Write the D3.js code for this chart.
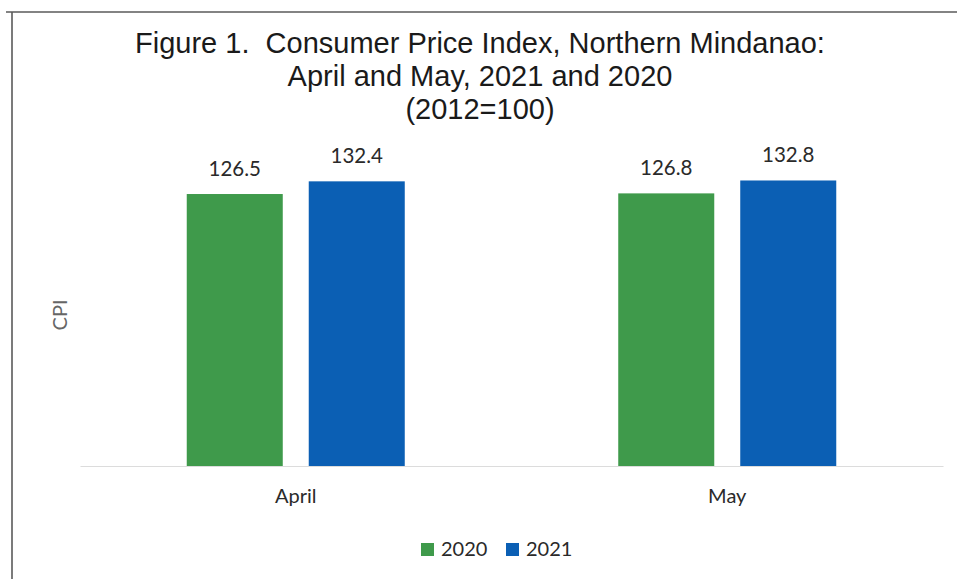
<!DOCTYPE html>
<html>
<head>
<meta charset="utf-8">
<script src="https://cdn.jsdelivr.net/npm/d3@7"></script>
<style>
  html, body { margin: 0; padding: 0; background: #ffffff; }
  svg { display: block; }
  text { white-space: pre; }
</style>
</head>
<body>
<svg id="chart" width="957" height="579"></svg>
<script>
// ---- data ----
const titleLines = ["Figure 1.  Consumer Price Index, Northern Mindanao:", "April and May, 2021 and 2020", "(2012=100)"];
const categories = ["April", "May"];
const seriesNames = ["2020", "2021"];
const values2020 = [126.5, 126.8];
const values2021 = [132.4, 132.8];
const valueLabels2020 = ["126.5", "126.8"];
const valueLabels2021 = ["132.4", "132.8"];
const yAxisTitle = "CPI";
const colors = ["#3f9a4b", "#0b5fb4"];

const seriesValues = [values2020, values2021];
const seriesLabels = [valueLabels2020, valueLabels2021];

const svg = d3.select("#chart");
const W = 957, H = 579;

// frame (scanned page border, top and left visible)
svg.append("line").attr("x1", 6).attr("x2", W).attr("y1", 12).attr("y2", 12)
  .attr("stroke", "#5a5a5a").attr("stroke-width", 1.6);
svg.append("line").attr("x1", 12).attr("x2", 12).attr("y1", 12).attr("y2", H)
  .attr("stroke", "#5a5a5a").attr("stroke-width", 1.6);

// title
const titleBaselines = [53, 86, 119];
svg.append("g").selectAll("text").data(titleLines).join("text")
  .attr("x", 480).attr("y", (d, i) => titleBaselines[i])
  .attr("text-anchor", "middle")
  .attr("xml:space", "preserve")
  .attr("font-family", "'Liberation Sans', Arial, sans-serif")
  .attr("font-size", 29)
  .attr("fill", "#1a1a1a")
  .text(d => d);

// scales
const plot = { left: 80, right: 943, top: 165, bottom: 466 };
const x0 = d3.scaleBand().domain(categories).range([plot.left, plot.right]).padding(0);
const x1 = d3.scaleBand().domain(seriesNames).range([0, x0.bandwidth()])
  .paddingInner(0.213).paddingOuter(0.875);
const y = d3.scaleLinear().domain([0, 140]).range([plot.bottom, plot.top]);

// baseline axis
const xAxis = d3.axisBottom(x0).tickSize(0).tickPadding(0).tickFormat("");
const ax = svg.append("g").attr("transform", `translate(0,${plot.bottom})`).call(xAxis);
ax.select(".domain").attr("stroke", "#dcdcdc").attr("stroke-width", 1.2);

// bars
const groups = svg.append("g").selectAll("g").data(categories).join("g")
  .attr("transform", d => `translate(${x0(d)},0)`);

groups.each(function(cat, ci) {
  const g = d3.select(this);
  seriesNames.forEach((s, si) => {
    const v = seriesValues[si][ci];
    g.append("rect")
      .attr("x", x1(s)).attr("width", x1.bandwidth())
      .attr("y", y(v)).attr("height", y(0) - y(v))
      .attr("fill", colors[si]);
    g.append("text")
      .attr("x", x1(s) + x1.bandwidth() / 2)
      .attr("y", y(v) - 18)
      .attr("text-anchor", "middle")
      .attr("font-family", "Lato, 'Open Sans', sans-serif")
      .attr("font-size", 20.5)
      .attr("fill", "#2a2a2a")
      .text(seriesLabels[si][ci]);
  });
});

// category labels
svg.append("g").selectAll("text").data(categories).join("text")
  .attr("x", d => x0(d) + x0.bandwidth() / 2)
  .attr("y", 503)
  .attr("text-anchor", "middle")
  .attr("font-family", "Lato, 'Open Sans', sans-serif")
  .attr("font-size", 20)
  .attr("fill", "#2a2a2a")
  .text(d => d);

// y axis title
svg.append("text")
  .attr("transform", "translate(67,315) rotate(-90)")
  .attr("text-anchor", "middle")
  .attr("font-family", "Lato, 'Open Sans', sans-serif")
  .attr("font-size", 20)
  .attr("fill", "#666")
  .text(yAxisTitle);

// legend
const legendX = [421, 506];
const lg = svg.append("g").selectAll("g").data(seriesNames).join("g")
  .attr("transform", (d, i) => `translate(${legendX[i]},543)`);
lg.append("rect").attr("width", 13).attr("height", 13).attr("fill", (d, i) => colors[i]);
lg.append("text").attr("x", 20).attr("y", 13)
  .attr("font-family", "Lato, 'Open Sans', sans-serif")
  .attr("font-size", 20)
  .attr("fill", "#2a2a2a")
  .text(d => d);
</script>
</body>
</html>
